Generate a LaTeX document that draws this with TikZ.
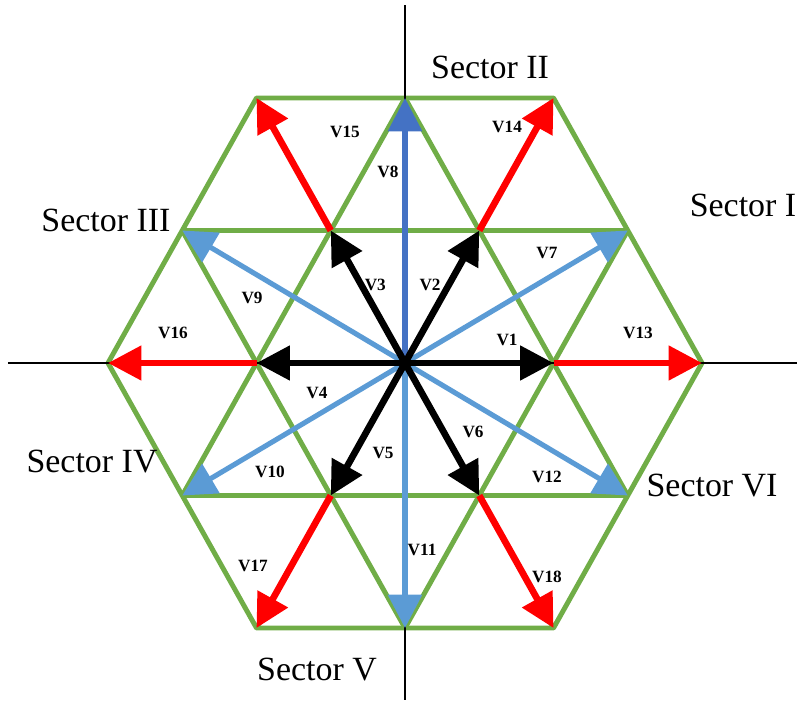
\documentclass[tikz,border=0pt]{standalone}
\usepackage{fontspec}
\setmainfont{Liberation Serif}
\definecolor{hexGreen}{RGB}{112,173,71}
\definecolor{vecBlue}{RGB}{91,155,213}
\definecolor{vecBlueDark}{RGB}{68,114,196}
\definecolor{vecRed}{RGB}{255,0,0}
\usepackage{tikz}
\usetikzlibrary{arrows.meta,positioning,calc}

\begin{document}
\begin{tikzpicture}[x=1.485cm,y=2.65cm,
    grid/.style={hexGreen,line width=2.8pt,line join=round},
    axis/.style={black,line width=1.1pt},
    vec/.style={line width=3.8pt,-{Triangle[length=19pt,width=19pt]}},
    vlabel/.style={font=\fontsize{9.8}{10}\selectfont\bfseries},
    sector/.style={font=\fontsize{19.3}{20}\selectfont}]
    \useasboundingbox (-5.4545,-2.566) rectangle (5.333,2.7396);
    % points of the lattice
    \coordinate (O) at (0,0);
    \coordinate (a1) at (2,0);   \coordinate (a2) at (1,1);   \coordinate (a3) at (-1,1);
    \coordinate (a4) at (-2,0);  \coordinate (a5) at (-1,-1); \coordinate (a6) at (1,-1);
    \coordinate (m1) at (3,1);   \coordinate (m2) at (0,2);   \coordinate (m3) at (-3,1);
    \coordinate (m4) at (-3,-1); \coordinate (m5) at (0,-2);  \coordinate (m6) at (3,-1);
    \coordinate (b1) at (4,0);   \coordinate (b2) at (2,2);   \coordinate (b3) at (-2,2);
    \coordinate (b4) at (-4,0);  \coordinate (b5) at (-2,-2); \coordinate (b6) at (2,-2);
    % Green triangles
    \draw[grid] (b1) -- (b2) -- (b3) -- (b4) -- (b5) -- (b6) -- cycle;
    \draw[grid] (m3) -- (m1);
    \draw[grid] (m4) -- (m6);
    \draw[grid] (b4) -- (b1);
    \draw[grid] (b5) -- (b2);
    \draw[grid] (b6) -- (b3);
    \draw[grid] (m5) -- (m1);
    \draw[grid] (m4) -- (m2);
    \draw[grid] (m5) -- (m3);
    \draw[grid] (m6) -- (m2);
    % Axes
    \coordinate (xl) at (-5.347,0); \coordinate (xr) at (5.279,0);
    \coordinate (yt) at (0,2.702);  \coordinate (yb) at (0,-2.543);
    \draw[axis] (xl) -- (xr);
    \draw[axis] (yb) -- (yt);
    % Large vectors
    \draw[vec,vecRed] (a1) -- (b1);
    \draw[vec,vecRed] (a2) -- (b2);
    \draw[vec,vecRed] (a3) -- (b3);
    \draw[vec,vecRed] (a4) -- (b4);
    \draw[vec,vecRed] (a5) -- (b5);
    \draw[vec,vecRed] (a6) -- (b6);
    % Medium vectors
    \draw[vec,vecBlue,line width=2.9pt] (O) -- (m1);
    \draw[vec,vecBlueDark,line width=2.9pt] (O) -- (m2);
    \draw[vec,vecBlue,line width=2.9pt] (O) -- (m3);
    \draw[vec,vecBlue,line width=2.9pt] (O) -- (m4);
    \draw[vec,vecBlue,line width=2.9pt] (O) -- (m5);
    \draw[vec,vecBlue,line width=2.9pt] (O) -- (m6);
    % Small vectors
    \draw[vec,black] (O) -- (a1);
    \draw[vec,black] (O) -- (a2);
    \draw[vec,black] (O) -- (a3);
    \draw[vec,black] (O) -- (a4);
    \draw[vec,black] (O) -- (a5);
    \draw[vec,black] (O) -- (a6);
    % Vector labels
    \node[vlabel] (l1) at (1.374,0.174) {V1};
    \node[vlabel] (l2) at (0.337,0.589) {V2};
    \node[vlabel] (l3) at (-0.40,0.589) {V3};
    \node[vlabel] (l4) at (-1.185,-0.226) {V4};
    \node[vlabel] (l5) at (-0.296,-0.679) {V5};
    \node[vlabel] (l6) at (0.916,-0.521) {V6};
    \node[vlabel] (l7) at (1.912,0.830) {V7};
    \node[vlabel] (l8) at (-0.229,1.442) {V8};
    \node[vlabel] (l9) at (-2.06,0.491) {V9};
    \node[vlabel] (l10) at (-1.818,-0.823) {V10};
    \node[vlabel] (l11) at (0.229,-1.411) {V11};
    \node[vlabel] (l12) at (1.912,-0.860) {V12};
    \node[vlabel] (l13) at (3.138,0.226) {V13};
    \node[vlabel] (l14) at (1.374,1.781) {V14};
    \node[vlabel] (l15) at (-0.808,1.743) {V15};
    \node[vlabel] (l16) at (-3.125,0.226) {V16};
    \node[vlabel] (l17) at (-2.047,-1.532) {V17};
    \node[vlabel] (l18) at (1.912,-1.615) {V18};
    % Sectors
    \node[sector] (s1) at (4.552,1.192) {Sector I};
    \node[sector] (s2) at (1.145,2.234) {Sector II};
    \node[sector] (s3) at (-4.027,1.079) {Sector III};
    \node[sector] (s4) at (-4.215,-0.747) {Sector IV};
    \node[sector] (s5) at (-1.185,-2.317) {Sector V};
    \node[sector] (s6) at (4.135,-0.921) {Sector VI};
\end{tikzpicture}
\end{document}
